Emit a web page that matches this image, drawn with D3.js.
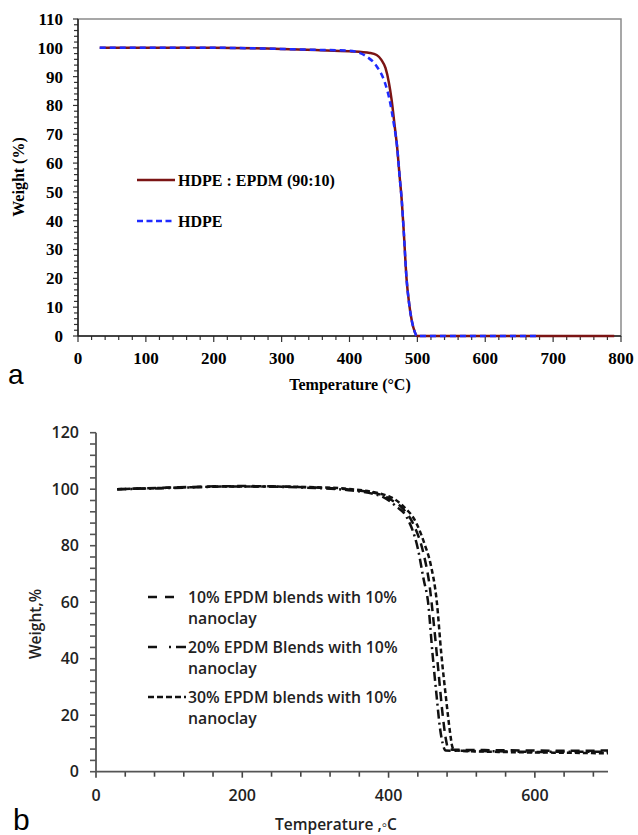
<!DOCTYPE html>
<html>
<head>
<meta charset="utf-8">
<script src="https://cdn.jsdelivr.net/npm/d3@7"></script>
<style>
  body { margin: 0; background: #fff; }
  svg { display: block; }
</style>
</head>
<body>
<div id="chart"></div>
<script>
// ---- panel a data: HDPE vs HDPE:EPDM (90:10) ----
var aTempBlend = [32, 100, 200, 300, 350, 400, 430, 440, 447, 453, 458, 462, 467, 470, 474, 477, 480, 484, 488, 492, 496, 500, 520, 600, 700, 790];
var aWeightBlend = [100, 100, 100, 99.6, 99.2, 98.8, 98.2, 97.5, 95.8, 93, 88, 82, 72, 66, 55, 47, 36, 20, 11, 5, 1.5, 0, 0, 0, 0, 0];
var aTempHdpe = [32, 100, 200, 300, 350, 400, 410, 425, 440, 452, 459, 465, 470, 474, 477, 480, 484, 488, 492, 496, 499, 520, 600, 680];
var aWeightHdpe = [100, 100, 100, 99.6, 99.3, 99, 98.6, 97, 93.6, 88, 82, 74, 66, 55, 47, 36, 20, 11, 5, 1.5, 0, 0, 0, 0];
var aXTicks = [0, 100, 200, 300, 400, 500, 600, 700, 800];
var aYTicks = [0, 10, 20, 30, 40, 50, 60, 70, 80, 90, 100, 110];
var aLegend = ["HDPE : EPDM (90:10)", "HDPE"];

// ---- panel b data: EPDM blends with 10% nanoclay ----
var bTemp10 = [29, 100, 200, 300, 350, 390, 405, 420, 435, 448, 456, 462, 468, 474, 478, 482, 490, 550, 600, 650, 700];
var bWeight10 = [100, 100.6, 101.1, 100.6, 99.8, 98, 96, 93, 87, 77, 66, 52, 36, 20, 12, 8, 7.8, 7.6, 7.5, 7.4, 7.5];
var bTemp20 = [29, 100, 200, 300, 350, 390, 410, 425, 440, 448, 454, 460, 466, 470, 474, 478, 500, 550, 600, 650, 700];
var bWeight20 = [100, 100.4, 101, 100.4, 99.5, 97.5, 94, 90, 79, 68, 60, 42, 26, 16, 10, 7.5, 7.4, 7.2, 7, 7.1, 7];
var bTemp30 = [29, 100, 200, 300, 350, 400, 420, 438, 450, 457, 466, 472, 479, 484, 487, 490, 550, 600, 650, 700];
var bWeight30 = [100, 100.5, 101, 100.7, 100, 97.5, 94, 88, 80, 74, 60, 42, 25, 14, 9, 7.5, 7, 6.8, 6.7, 6.5];
var bXTicks = [0, 200, 400, 600];
var bYTicks = [0, 20, 40, 60, 80, 100, 120];
var bLegend = ["10% EPDM blends with 10%|nanoclay", "20% EPDM Blends with 10%|nanoclay", "30% EPDM blends with 10%|nanoclay"];

function zip(xs, ys) {
    return xs.map(function(x, i) { return { t: x, w: ys[i] }; });
}

var W = 638, H = 835;
var svg = d3.select("#chart").append("svg").attr("width", W).attr("height", H);

// ================= panel a =================
var serif = "'Liberation Serif', 'Times New Roman', serif";
var ax = d3.scaleLinear().domain([0, 800]).range([78, 621]);
var ay = d3.scaleLinear().domain([0, 110]).range([336, 19]);

// frame (top/right in grey)
svg.append("rect")
    .attr("x", ax(0)).attr("y", ay(110))
    .attr("width", ax(800) - ax(0)).attr("height", ay(0) - ay(110))
    .attr("fill", "none").attr("stroke", "#8a8a8a").attr("stroke-width", 1.5);

// minor ticks
var aMinorX = d3.range(0, 801, 20);
var aMinorY = d3.range(0, 111, 2);
svg.append("g").selectAll("line").data(aMinorX).enter().append("line")
    .attr("x1", function(d) { return ax(d); }).attr("x2", function(d) { return ax(d); })
    .attr("y1", ay(0)).attr("y2", function(d) { return ay(0) + (d % 100 === 0 ? 6 : 4); })
    .attr("stroke", "#333").attr("stroke-width", 1.2);
svg.append("g").selectAll("line").data(aMinorY).enter().append("line")
    .attr("y1", function(d) { return ay(d); }).attr("y2", function(d) { return ay(d); })
    .attr("x1", function(d) { return ax(0) - (d % 10 === 0 ? 5 : 4); }).attr("x2", ax(0))
    .attr("stroke", "#333").attr("stroke-width", 1.2);

svg.append("line").attr("x1", ax(0)).attr("x2", ax(800)).attr("y1", ay(0)).attr("y2", ay(0))
    .attr("stroke", "#222").attr("stroke-width", 1.5);
svg.append("line").attr("x1", ax(0)).attr("x2", ax(0)).attr("y1", ay(0)).attr("y2", ay(110))
    .attr("stroke", "#222").attr("stroke-width", 1.5);

// tick labels
svg.append("g").selectAll("text").data(aXTicks).enter().append("text")
    .attr("x", function(d) { return ax(d); }).attr("y", 364)
    .attr("text-anchor", "middle")
    .style("font-family", serif).style("font-weight", "bold").style("font-size", "17px")
    .text(function(d) { return d; });
svg.append("g").selectAll("text").data(aYTicks).enter().append("text")
    .attr("x", 63).attr("y", function(d) { return ay(d); }).attr("dy", "0.35em")
    .attr("text-anchor", "end")
    .style("font-family", serif).style("font-weight", "bold").style("font-size", "17px")
    .text(function(d) { return d; });

svg.append("text").attr("x", 350).attr("y", 390).attr("text-anchor", "middle")
    .style("font-family", serif).style("font-weight", "bold").style("font-size", "16px")
    .text("Temperature (°C)");
svg.append("text").attr("transform", "translate(24,177) rotate(-90)").attr("text-anchor", "middle")
    .style("font-family", serif).style("font-weight", "bold").style("font-size", "16px")
    .text("Weight (%)");
svg.append("text").attr("x", 8).attr("y", 384)
    .style("font-family", "'Liberation Sans', Arial, sans-serif").style("font-size", "28px")
    .text("a");

var aLine = d3.line().x(function(d) { return ax(d.t); }).y(function(d) { return ay(d.w); })
    .curve(d3.curveMonotoneX);
svg.append("path").datum(zip(aTempBlend, aWeightBlend)).attr("d", aLine)
    .attr("fill", "none").attr("stroke", "#7b1414").attr("stroke-width", 2.5);
svg.append("path").datum(zip(aTempHdpe, aWeightHdpe)).attr("d", aLine)
    .attr("fill", "none").attr("stroke", "#1f2bff").attr("stroke-width", 2.5)
    .attr("stroke-dasharray", "6,4");

// legend a
var aLegY = [180, 221];
var aLegStyle = [{ c: "#7b1414", dash: null }, { c: "#1f2bff", dash: "6,3.5" }];
aLegend.forEach(function(name, i) {
    svg.append("line").attr("x1", 137).attr("x2", 175).attr("y1", aLegY[i]).attr("y2", aLegY[i])
        .attr("stroke", aLegStyle[i].c).attr("stroke-width", 2.5)
        .attr("stroke-dasharray", aLegStyle[i].dash);
    svg.append("text").attr("x", 178).attr("y", aLegY[i]).attr("dy", "0.35em")
        .style("font-family", serif).style("font-weight", "bold").style("font-size", "16px")
        .text(name);
});

// ================= panel b =================
var sans = "'Open Sans', 'Noto Sans', sans-serif";
var bx = d3.scaleLinear().domain([0, 700]).range([96, 608]);
var by = d3.scaleLinear().domain([0, 120]).range([771.7, 432.7]);

var bMinorX = d3.range(0, 701, 40);
var bMinorY = d3.range(0, 121, 4);
svg.append("g").selectAll("line").data(bMinorX).enter().append("line")
    .attr("x1", function(d) { return bx(d); }).attr("x2", function(d) { return bx(d); })
    .attr("y1", by(0)).attr("y2", function(d) { return by(0) + (d % 200 === 0 ? 6 : 5); })
    .attr("stroke", "#444").attr("stroke-width", 1.6);
svg.append("g").selectAll("line").data(bMinorY).enter().append("line")
    .attr("y1", function(d) { return by(d); }).attr("y2", function(d) { return by(d); })
    .attr("x1", function(d) { return bx(0) - 6; }).attr("x2", bx(0))
    .attr("stroke", "#555").attr("stroke-width", 1.6);
svg.append("line").attr("x1", bx(0)).attr("x2", bx(700)).attr("y1", by(0)).attr("y2", by(0))
    .attr("stroke", "#555").attr("stroke-width", 1.8);
svg.append("line").attr("x1", bx(0)).attr("x2", bx(0)).attr("y1", by(0)).attr("y2", by(120))
    .attr("stroke", "#555").attr("stroke-width", 1.8);

svg.append("g").selectAll("text").data(bXTicks).enter().append("text")
    .attr("x", function(d) { return bx(d); }).attr("y", 801)
    .attr("text-anchor", "middle")
    .style("font-family", sans).style("font-weight", "600").style("font-size", "16px")
    .style("fill", "#222")
    .text(function(d) { return d; });
svg.append("g").selectAll("text").data(bYTicks).enter().append("text")
    .attr("x", 79).attr("y", function(d) { return by(d); }).attr("dy", "0.35em")
    .attr("text-anchor", "end")
    .style("font-family", sans).style("font-weight", "600").style("font-size", "16px")
    .style("fill", "#222")
    .text(function(d) { return d; });

svg.append("text").attr("x", 336).attr("y", 830).attr("text-anchor", "middle")
    .style("font-family", sans).style("font-weight", "600").style("font-size", "15.5px")
    .style("fill", "#222")
    .text("Temperature ,\u25E6C");
svg.append("text").attr("transform", "translate(41,624) rotate(-90)").attr("text-anchor", "middle")
    .style("font-family", sans).style("font-weight", "600").style("font-size", "15.5px")
    .style("fill", "#222")
    .text("Weight,%");
svg.append("text").attr("x", 13).attr("y", 830)
    .style("font-family", "'Liberation Sans', Arial, sans-serif").style("font-size", "30px")
    .text("b");

var bLine = d3.line().x(function(d) { return bx(d.t); }).y(function(d) { return by(d.w); })
    .curve(d3.curveMonotoneX);
var bDash = ["9,6", "9,4,2,4", "5,3"];
[[bTemp10, bWeight10], [bTemp20, bWeight20], [bTemp30, bWeight30]].forEach(function(s, i) {
    svg.append("path").datum(zip(s[0], s[1])).attr("d", bLine)
        .attr("fill", "none").attr("stroke", "#111").attr("stroke-width", 2.5)
        .attr("stroke-dasharray", bDash[i]);
});

// legend b
var bLegY = [597, 647, 697];
var bLegEnd = [174, 186, 186];
var bLegDash = ["9,8", "9,12,2,5,10,20", "6,3"];
bLegend.forEach(function(name, i) {
    svg.append("line").attr("x1", 148).attr("x2", bLegEnd[i]).attr("y1", bLegY[i]).attr("y2", bLegY[i])
        .attr("stroke", "#111").attr("stroke-width", 2.5)
        .attr("stroke-dasharray", bLegDash[i]);
    var parts = name.split("|");
    parts.forEach(function(p, j) {
        svg.append("text").attr("x", 188).attr("y", bLegY[i] + j * 21).attr("dy", "0.35em")
            .style("font-family", sans).style("font-weight", "600").style("font-size", "15.8px")
            .style("fill", "#222")
            .text(p);
    });
});
</script>
</body>
</html>
